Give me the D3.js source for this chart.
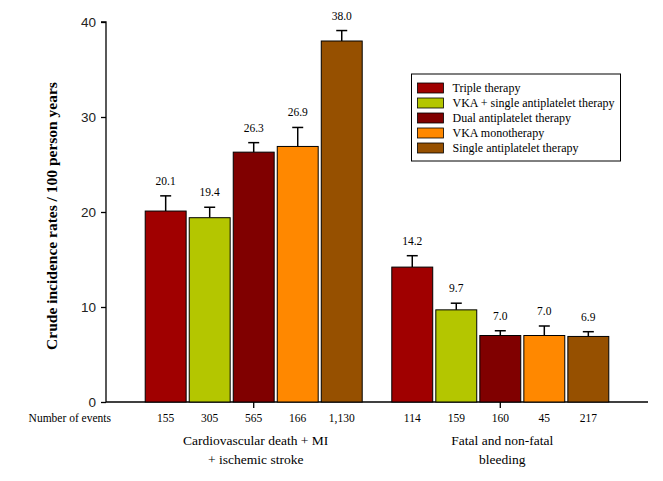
<!DOCTYPE html>
<html><head><meta charset="utf-8">
<script src="https://cdn.jsdelivr.net/npm/d3@7"></script>
<style>body{margin:0;background:#fff}svg{display:block}
.sf{font-family:'Liberation Serif','Times New Roman',Times,serif}
.ss{font-family:'Liberation Sans',Arial,sans-serif}</style>
</head><body><svg id="c" width="663" height="481"></svg>
<script>
const groups = ["Cardiovascular death + MI|+ ischemic stroke", "Fatal and non-fatal|bleeding"];
const series = ["Triple therapy", "VKA + single antiplatelet therapy", "Dual antiplatelet therapy", "VKA monotherapy", "Single antiplatelet therapy"];
const colors = ["#A00000", "#B4C600", "#800000", "#FF8800", "#965000"];
const cvValues = [20.1, 19.4, 26.3, 26.9, 38.0];
const cvUpper = [21.7, 20.5, 27.3, 28.9, 39.1];
const cvEvents = ["155", "305", "565", "166", "1,130"];
const blValues = [14.2, 9.7, 7.0, 7.0, 6.9];
const blUpper = [15.4, 10.4, 7.5, 8.0, 7.4];
const blEvents = ["114", "159", "160", "45", "217"];
const yTicks = [0, 10, 20, 30, 40];

const values = [cvValues, blValues], uppers = [cvUpper, blUpper], events = [cvEvents, blEvents];
const svg = d3.select("#c");
const mLeft = 106, mRight = 648, mTop = 22, mBottom = 402;
const y = d3.scaleLinear().domain([0, 40]).range([mBottom, mTop]);
const x0 = d3.scaleBand().domain(groups).range([mLeft, mRight]).paddingInner(0.12).paddingOuter(0.159);
const x1 = d3.scaleBand().domain(series).range([0, x0.bandwidth()]).paddingInner(0.07);

// y axis
const yAxis = svg.append("g").attr("transform", `translate(${mLeft},0)`)
  .call(d3.axisLeft(y).tickValues(yTicks).tickSize(5).tickPadding(5).tickFormat(d3.format("d")));
yAxis.attr("font-family", null).attr("font-size", null);
yAxis.select(".domain").attr("d", `M-5,${mTop}H0V${mBottom}`).attr("stroke", "#000").attr("stroke-width", 1.3);
yAxis.selectAll(".tick line").attr("stroke", "#000").attr("stroke-width", 1.3);
yAxis.selectAll("text").attr("class", "ss").attr("font-size", 13.5).attr("fill", "#222");

// x axis
const xAxis = svg.append("g").attr("transform", `translate(0,${mBottom})`)
  .call(d3.axisBottom(x0).tickSize(6).tickFormat(""));
xAxis.select(".domain").attr("d", `M${mLeft},0H${mRight}`).attr("stroke", "#000").attr("stroke-width", 1.3);
xAxis.selectAll(".tick line").attr("stroke", "#000").attr("stroke-width", 1.3);

// bars
groups.forEach((g, gi) => {
  const gg = svg.append("g").attr("transform", `translate(${x0(g)},0)`);
  series.forEach((s, si) => {
    const v = values[gi][si], u = uppers[gi][si];
    const cx = x1(s) + x1.bandwidth() / 2;
    gg.append("line").attr("x1", cx).attr("x2", cx).attr("y1", y(v)).attr("y2", y(u))
      .attr("stroke", "#000").attr("stroke-width", 1.5);
    gg.append("line").attr("x1", cx - 5.5).attr("x2", cx + 5.5).attr("y1", y(u)).attr("y2", y(u))
      .attr("stroke", "#000").attr("stroke-width", 1.5);
    gg.append("rect").attr("x", x1(s)).attr("y", y(v)).attr("width", x1.bandwidth()).attr("height", y(0) - y(v))
      .attr("fill", colors[si]).attr("stroke", "#000").attr("stroke-width", 1);
    gg.append("text").attr("class", "sf").attr("x", cx).attr("y", y(u) - 11).attr("text-anchor", "middle")
      .attr("font-size", 11.5).text(v.toFixed(1));
    gg.append("text").attr("class", "sf").attr("x", cx).attr("y", 422).attr("text-anchor", "middle")
      .attr("font-size", 11.5).text(events[gi][si]);
  });
  const lines = g.split("|");
  lines.forEach((l, li) => {
    svg.append("text").attr("class", "sf").attr("x", x0(g) + x0.bandwidth() / 2 + 2).attr("y", 445 + li * 19)
      .attr("text-anchor", "middle").attr("font-size", 13.5).text(l);
  });
});

svg.append("text").attr("class", "sf").attr("x", 111).attr("y", 422).attr("text-anchor", "end")
  .attr("font-size", 11.5).text("Number of events");

svg.append("text").attr("class", "sf").attr("transform", `translate(57,${(mTop + mBottom) / 2 + 4}) rotate(-90)`)
  .attr("text-anchor", "middle").attr("font-weight", "bold").attr("font-size", 15.5)
  .text("Crude incidence rates / 100 person years");

// legend
const lg = svg.append("g").attr("transform", "translate(411.5,74)");
lg.append("rect").attr("width", 209).attr("height", 87).attr("fill", "#fff").attr("stroke", "#000").attr("stroke-width", 1);
series.forEach((s, i) => {
  lg.append("rect").attr("x", 6).attr("y", 9 + i * 15).attr("width", 26).attr("height", 10)
    .attr("fill", colors[i]).attr("stroke", "#000").attr("stroke-width", 0.8);
  lg.append("text").attr("class", "sf").attr("x", 41).attr("y", 18 + i * 15).attr("font-size", 12).text(s);
});
</script></body></html>
